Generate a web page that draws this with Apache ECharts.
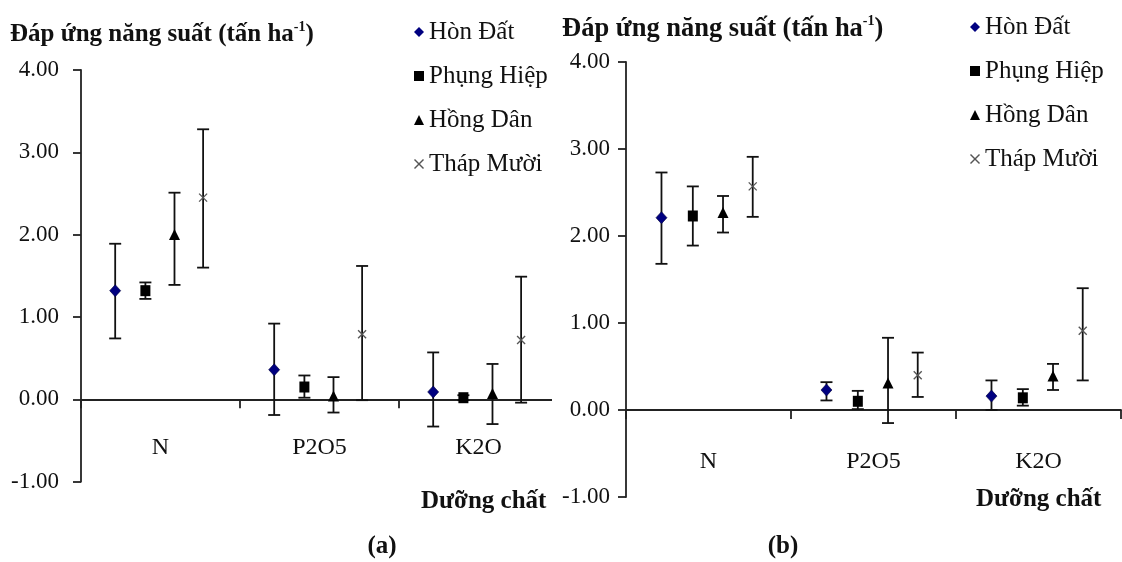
<!DOCTYPE html>
<html><head><meta charset="utf-8">
<script src="https://cdn.jsdelivr.net/npm/echarts@6/dist/echarts.min.js"></script>
<style>html,body{margin:0;padding:0;background:#fff}#c{width:1122px;height:562px}</style>
</head><body><div id="c"></div>
<script>
// ---------- data ----------
const categories = ['N', 'P2O5', 'K2O'];
const stations = ['Hòn Đất', 'Phụng Hiệp', 'Hồng Dân', 'Tháp Mười'];
const yTicks = [-1, 0, 1, 2, 3, 4];

// panel (a): mean, lower end and upper end of error bar
const a_honDat      = [1.32, 0.36, 0.09];
const a_honDat_lo   = [0.74, -0.19, -0.33];
const a_honDat_hi   = [1.89, 0.92, 0.57];
const a_phungHiep    = [1.32, 0.15, 0.02];
const a_phungHiep_lo = [1.22, 0.02, -0.01];
const a_phungHiep_hi = [1.42, 0.29, 0.05];
const a_hongDan      = [1.99, 0.03, 0.06];
const a_hongDan_lo   = [1.39, -0.16, -0.30];
const a_hongDan_hi   = [2.51, 0.27, 0.43];
const a_thapMuoi     = [2.45, 0.79, 0.72];
const a_thapMuoi_lo  = [1.60, -0.01, -0.04];
const a_thapMuoi_hi  = [3.28, 1.62, 1.49];

// panel (b)
const b_honDat      = [2.21, 0.23, 0.16];
const b_honDat_lo   = [1.68, 0.11, 0.00];
const b_honDat_hi   = [2.73, 0.32, 0.34];
const b_phungHiep    = [2.23, 0.10, 0.14];
const b_phungHiep_lo = [1.89, 0.01, 0.05];
const b_phungHiep_hi = [2.57, 0.22, 0.24];
const b_hongDan      = [2.26, 0.30, 0.38];
const b_hongDan_lo   = [2.04, -0.15, 0.23];
const b_hongDan_hi   = [2.46, 0.83, 0.53];
const b_thapMuoi     = [2.57, 0.40, 0.91];
const b_thapMuoi_lo  = [2.22, 0.15, 0.34];
const b_thapMuoi_hi  = [2.91, 0.66, 1.40];

// ---------- style ----------
const FONT = "'Liberation Serif', 'Times New Roman', serif";
const INK = '#111';
const AXIS = '#222';
const offsets = [-0.285, -0.095, 0.088, 0.268]; // position of each station inside a category band
const shapes = ['diamond', 'square', 'triangle', 'cross'];
const colors = ['#000080', '#000000', '#000000', '#555555'];

function marker(shape, x, y, color) {
  if (shape === 'diamond') return {type: 'polygon', shape: {points: [[x, y - 6], [x + 5.5, y], [x, y + 6], [x - 5.5, y]]}, style: {fill: color, stroke: '#00003a', lineWidth: 0.6}};
  if (shape === 'square') return {type: 'rect', shape: {x: x - 5, y: y - 5.5, width: 10, height: 11}, style: {fill: color}};
  if (shape === 'triangle') return {type: 'polygon', shape: {points: [[x, y - 6.5], [x + 5.5, y + 4.5], [x - 5.5, y + 4.5]]}, style: {fill: color}};
  return {type: 'group', children: [
    {type: 'line', shape: {x1: x - 4, y1: y - 4, x2: x + 4, y2: y + 4}, style: {stroke: color, lineWidth: 1.3}},
    {type: 'line', shape: {x1: x - 4, y1: y + 4, x2: x + 4, y2: y - 4}, style: {stroke: color, lineWidth: 1.3}}
  ]};
}

function makeRender(k) {
  return function (params, api) {
    const i = api.value(0), v = api.value(1), lo = api.value(2), hi = api.value(3);
    const bw = api.size([1, 0])[0];
    const c = api.coord([i, v]);
    const x = c[0] + offsets[k] * bw;
    const yLo = api.coord([i, lo])[1], yHi = api.coord([i, hi])[1];
    const cap = 6;
    const ls = {stroke: INK, lineWidth: 1.8};
    return {type: 'group', children: [
      {type: 'line', shape: {x1: x, y1: yHi, x2: x, y2: yLo}, style: ls},
      {type: 'line', shape: {x1: x - cap, y1: yHi, x2: x + cap, y2: yHi}, style: ls},
      {type: 'line', shape: {x1: x - cap, y1: yLo, x2: x + cap, y2: yLo}, style: ls},
      marker(shapes[k], x, c[1], colors[k])
    ]};
  };
}

function rows(mean, lo, hi) {
  return categories.map((_, i) => [i, mean[i], lo[i], hi[i]]);
}

const panelA = [
  rows(a_honDat, a_honDat_lo, a_honDat_hi),
  rows(a_phungHiep, a_phungHiep_lo, a_phungHiep_hi),
  rows(a_hongDan, a_hongDan_lo, a_hongDan_hi),
  rows(a_thapMuoi, a_thapMuoi_lo, a_thapMuoi_hi)
];
const panelB = [
  rows(b_honDat, b_honDat_lo, b_honDat_hi),
  rows(b_phungHiep, b_phungHiep_lo, b_phungHiep_hi),
  rows(b_hongDan, b_hongDan_lo, b_hongDan_hi),
  rows(b_thapMuoi, b_thapMuoi_lo, b_thapMuoi_hi)
];

const series = [];
[panelA, panelB].forEach((panel, p) => {
  panel.forEach((data, k) => {
    series.push({
      type: 'custom', name: stations[k], xAxisIndex: p, yAxisIndex: p,
      renderItem: makeRender(k), data: data, encode: {x: 0, y: 1},
      itemStyle: {color: colors[k]}, silent: true, clip: false
    });
  });
});

const icons = ['diamond', 'rect', 'triangle', 'path://M1,0L5,4L9,0L10,1L6,5L10,9L9,10L5,6L1,10L0,9L4,5L0,1Z'];
const legendData = stations.map((s, k) => ({name: s, icon: icons[k], itemStyle: {color: colors[k]}}));
function legend(left, top) {
  return {left: left, top: top, orient: 'vertical', itemGap: 14, itemWidth: 10, itemHeight: 10,
    selectedMode: false, data: legendData,
    textStyle: {fontFamily: FONT, fontSize: 25, color: INK, lineHeight: 30}};
}

function xAxis(g, margin) {
  return {gridIndex: g, type: 'category', data: categories,
    axisLine: {onZero: true, lineStyle: {color: AXIS, width: 1.8}},
    axisTick: {show: true, length: 9, lineStyle: {color: AXIS, width: 1.8}},
    axisLabel: {margin: margin, fontFamily: FONT, fontSize: 24, color: INK},
    splitLine: {show: false}};
}
function yAxis(g, margin) {
  return {gridIndex: g, type: 'value', min: yTicks[0], max: yTicks[yTicks.length - 1], interval: 1,
    axisLine: {show: true, lineStyle: {color: AXIS, width: 1.8}},
    axisTick: {show: true, length: 8, lineStyle: {color: AXIS, width: 1.8}},
    axisLabel: {margin: margin, fontFamily: FONT, fontSize: 23, color: INK, formatter: v => v.toFixed(2)},
    splitLine: {show: false}};
}

function titleText(x, y, size) {
  return {type: 'text', left: x, top: y, style: {
    text: '{t|Đáp ứng năng suất (tấn ha}{s|-1}{t|)}',
    rich: {
      t: {fontFamily: FONT, fontWeight: 'bold', fontSize: size, lineHeight: 30, fill: INK},
      s: {fontFamily: FONT, fontWeight: 'bold', fontSize: 14, lineHeight: 14, verticalAlign: 'top', fill: INK}
    }}};
}
function boldText(txt, x, y, align) {
  return {type: 'text', x: x, y: y, style: {text: txt, fontFamily: FONT, fontWeight: 'bold', fontSize: 25,
    fill: INK, textAlign: align, textVerticalAlign: 'middle'}};
}

const chart = echarts.init(document.getElementById('c'), null, {renderer: 'canvas'});
chart.setOption({
  backgroundColor: '#fff',
  animation: false,
  grid: [
    {left: 81, top: 70, width: 477, height: 411.7},
    {left: 626, top: 62, width: 495, height: 435}
  ],
  xAxis: [xAxis(0, -45.5), xAxis(1, -47.5)],
  yAxis: [yAxis(0, 22), yAxis(1, 16)],
  legend: [legend(409, 12), legend(965, 7)],
  graphic: [
    titleText(10, 20, 25),
    titleText(562, 14, 26.5),
    boldText('Dưỡng chất', 421, 502, 'left'),
    boldText('Dưỡng chất', 976, 500, 'left'),
    boldText('(a)', 382, 547, 'center'),
    boldText('(b)', 783, 547, 'center'),
    // panel (a) is cropped on its right edge in the original figure
    {type: 'rect', left: 552, top: 392, z: 100, shape: {width: 8, height: 20}, style: {fill: '#fff'}}
  ],
  series: series
});
</script></body></html>
